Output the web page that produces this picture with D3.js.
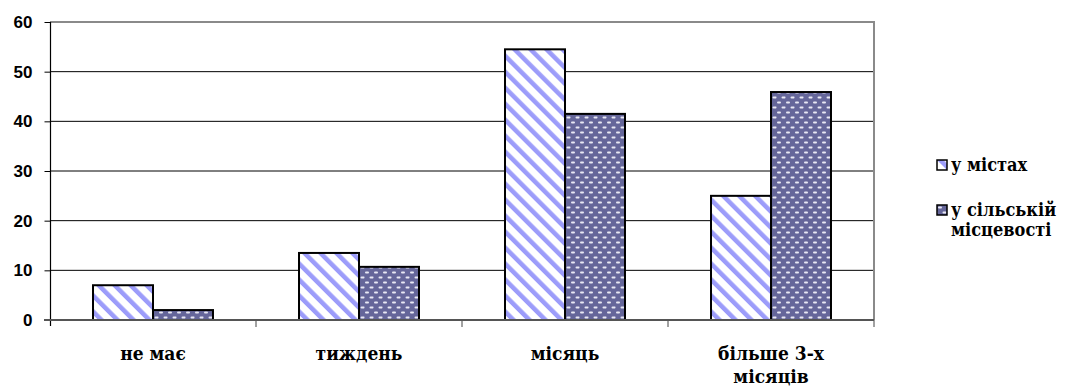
<!DOCTYPE html>
<html>
<head>
<meta charset="utf-8">
<script src="https://cdn.jsdelivr.net/npm/d3@7"></script>
<style>
    body { margin: 0; background: #fff; }
    .serif { font-family: "DejaVu Serif"; font-stretch: condensed; font-weight: bold; }
</style>
</head>
<body>
<div id="chart"></div>
<script>
'use strict';

// ------------- data -----------------------------------
var categories  = ['не має', 'тиждень', 'місяць', 'більше 3-х\nмісяців'];
var seriesNames = ['у містах', 'у сільській\nмісцевості'];
var cityValues  = [7, 13.5, 54.5, 25];
var ruralValues = [2, 10.7, 41.5, 45.9];
var yTicks      = [0, 10, 20, 30, 40, 50, 60];

function barChart()
{
    var scope = this;
    var exports = {};

    scope.width  = 1091;
    scope.height = 387;
    scope.plot   = {left: 50, right: 874, top: 22, bottom: 320};

    scope.x0 = undefined;
    scope.x1 = undefined;
    scope.y  = undefined;

    scope.appendSvg = function(div)
    {
        return d3.select(div).append('svg')
            .attr('width', scope.width)
            .attr('height', scope.height);
    }

    scope.appendPatterns = function(svg)
    {
        var defs = svg.append('defs');

        // white with light blue diagonal stripes
        var p1 = defs.append('pattern')
            .attr('id', 'pat0')
            .attr('patternUnits', 'userSpaceOnUse')
            .attr('width', 11.3).attr('height', 11.3)
            .attr('patternTransform', 'rotate(-45)');
        p1.append('rect').attr('width', 11.3).attr('height', 11.3).attr('fill', '#fff');
        p1.append('rect').attr('x', 0).attr('width', 4.5).attr('height', 11.3).attr('fill', '#9c9cfa');

        // dark slate blue with white dashes
        var p2 = defs.append('pattern')
            .attr('id', 'pat1')
            .attr('patternUnits', 'userSpaceOnUse')
            .attr('width', 9).attr('height', 10);
        p2.append('rect').attr('width', 9).attr('height', 10).attr('fill', '#65669a');
        p2.append('rect').attr('x', 1).attr('y', 1.5).attr('width', 4).attr('height', 2).attr('rx', 1).attr('fill', '#e8e8f4');
        p2.append('rect').attr('x', 5.5).attr('y', 6.5).attr('width', 4).attr('height', 2).attr('rx', 1).attr('fill', '#e8e8f4');
        p2.append('rect').attr('x', -3.5).attr('y', 6.5).attr('width', 4).attr('height', 2).attr('rx', 1).attr('fill', '#e8e8f4');
    }

    scope.createScales = function()
    {
        scope.x0 = d3.scaleBand().domain(categories).range([scope.plot.left, scope.plot.right]);
        scope.x1 = d3.scaleBand().domain([0, 1]).range([0, scope.x0.bandwidth()]).paddingOuter(0.717);
        scope.y  = d3.scaleLinear().domain([0, 60]).range([scope.plot.bottom, scope.plot.top]);
    }

    scope.appendGrid = function(svg)
    {
        var p = scope.plot;

        svg.append('g').selectAll('line')
            .data(yTicks.filter(function(t){ return t > 0 && t < 60; }))
            .enter().append('line')
            .attr('x1', p.left).attr('x2', p.right)
            .attr('y1', function(d){ return scope.y(d); })
            .attr('y2', function(d){ return scope.y(d); })
            .attr('stroke', '#000').attr('stroke-width', 1);

        // top and right border
        svg.append('path')
            .attr('d', 'M' + p.left + ',' + scope.y(60) + 'H' + p.right + 'V' + p.bottom)
            .attr('fill', 'none').attr('stroke', '#8a8a8a').attr('stroke-width', 2);
    }

    scope.appendAxes = function(svg)
    {
        var p = scope.plot;

        var yAxis = d3.axisLeft(scope.y).tickValues(yTicks).tickSize(6).tickPadding(12);
        var yg = svg.append('g')
            .attr('transform', 'translate(' + (p.left + 0.5) + ',0)')
            .call(yAxis);
        yg.select('.domain').remove();
        yg.selectAll('line').attr('stroke', '#000');
        yg.selectAll('text')
            .attr('font-family', '"Liberation Sans", Arial, sans-serif')
            .attr('font-weight', 'bold')
            .attr('font-size', '17px')
            .attr('fill', '#000');

        svg.append('line')
            .attr('x1', p.left + 0.5).attr('x2', p.left + 0.5)
            .attr('y1', p.top).attr('y2', p.bottom + 6)
            .attr('stroke', '#000').attr('stroke-width', 1.2);

        // category axis
        var bounds = categories.map(function(c){ return scope.x0(c); }).concat([p.right]);
        svg.append('g').selectAll('line')
            .data(bounds.slice(1))
            .enter().append('line')
            .attr('x1', function(d){ return d; }).attr('x2', function(d){ return d; })
            .attr('y1', p.bottom).attr('y2', p.bottom + 7)
            .attr('stroke', '#444').attr('stroke-width', 1);

        svg.append('line')
            .attr('x1', p.left - 6).attr('x2', p.right)
            .attr('y1', p.bottom).attr('y2', p.bottom)
            .attr('stroke', '#555').attr('stroke-width', 2.2);

        var labels = svg.append('g').selectAll('text')
            .data(categories)
            .enter().append('text')
            .attr('class', 'serif')
            .attr('x', function(d){ return scope.x0(d) + scope.x0.bandwidth() / 2; })
            .attr('y', 360)
            .attr('text-anchor', 'middle')
            .attr('font-size', '19px');
        labels.each(function(d){
            var t = d3.select(this);
            d.split('\n').forEach(function(line, i){
                t.append('tspan')
                    .attr('x', t.attr('x'))
                    .attr('dy', i === 0 ? 0 : 23)
                    .text(line);
            });
        });
    }

    scope.appendBars = function(svg)
    {
        var series = [cityValues, ruralValues];
        var groups = svg.append('g').selectAll('g')
            .data(categories)
            .enter().append('g')
            .attr('transform', function(d){ return 'translate(' + scope.x0(d) + ',0)'; });

        groups.selectAll('rect')
            .data(function(d, i){ return series.map(function(s, k){ return {k: k, v: s[i]}; }); })
            .enter().append('rect')
            .attr('x', function(d){ return scope.x1(d.k); })
            .attr('y', function(d){ return scope.y(d.v); })
            .attr('width', scope.x1.bandwidth())
            .attr('height', function(d){ return scope.y(0) - scope.y(d.v); })
            .attr('fill', function(d){ return 'url(#pat' + d.k + ')'; })
            .attr('stroke', '#000')
            .attr('stroke-width', 2);
    }

    scope.appendLegend = function(svg)
    {
        var items = svg.append('g').selectAll('g')
            .data(seriesNames)
            .enter().append('g')
            .attr('transform', function(d, i){ return 'translate(937,' + (160 + i * 45) + ')'; });

        items.append('rect')
            .attr('width', 10).attr('height', 10)
            .attr('fill', function(d, i){ return 'url(#pat' + i + ')'; })
            .attr('stroke', '#000').attr('stroke-width', 1.5);

        items.append('text')
            .attr('class', 'serif')
            .attr('x', 14).attr('y', 11)
            .attr('font-size', '18px')
            .each(function(d){
                var t = d3.select(this);
                d.split('\n').forEach(function(line, i){
                    t.append('tspan')
                        .attr('x', 14)
                        .attr('dy', i === 0 ? 0 : 20)
                        .text(line);
                });
            });
    }

    //------------- exported API -----------------------------------

    exports.run = function(div)
    {
        var svg = scope.appendSvg(div);
        scope.appendPatterns(svg);
        scope.createScales();
        scope.appendGrid(svg);
        scope.appendBars(svg);
        scope.appendAxes(svg);
        scope.appendLegend(svg);
    }

    return exports;
}

barChart.call({}).run('#chart');
</script>
</body>
</html>
